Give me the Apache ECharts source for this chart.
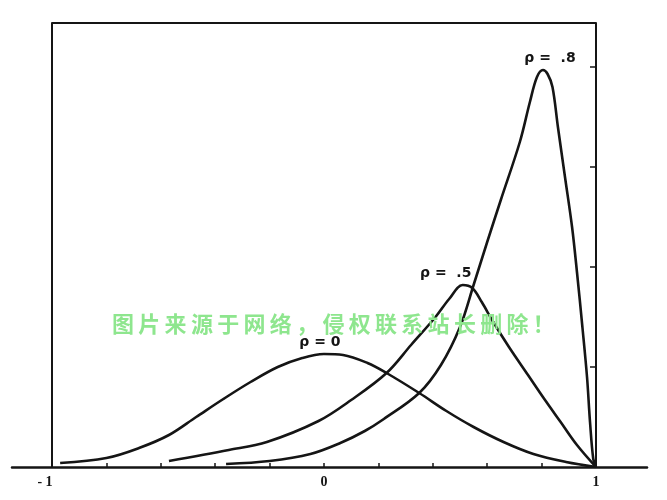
<!DOCTYPE html>
<html>
<head>
<meta charset="utf-8">
<script src="https://cdn.jsdelivr.net/npm/echarts@6/dist/echarts.min.js"></script>
<style>html,body{margin:0;padding:0;background:#fff;}#c{width:667px;height:500px;}</style>
</head>
<body>
<div id="c"></div>
<script>
// r values (x) and density values (y)
var rho0X = [-0.97,-0.80,-0.68,-0.57,-0.47,-0.37,-0.27,-0.17,-0.08,0.0,0.07,0.16,0.23,0.35,0.45,0.55,0.66,0.77,0.89,1.0];
var rho0Y = [0.04,0.09,0.19,0.32,0.50,0.68,0.85,1.00,1.09,1.13,1.12,1.04,0.94,0.74,0.56,0.40,0.25,0.13,0.05,0.0];
var rho5X = [-0.57,-0.35,-0.21,-0.02,0.10,0.23,0.32,0.41,0.46,0.51,0.545,0.58,0.62,0.68,0.75,0.81,0.87,0.93,1.0];
var rho5Y = [0.06,0.17,0.25,0.46,0.67,0.94,1.22,1.50,1.68,1.82,1.79,1.65,1.46,1.20,0.92,0.68,0.45,0.22,0.0];
var rho8X = [-0.36,-0.20,-0.05,0.06,0.15,0.22,0.35,0.43,0.50,0.55,0.60,0.65,0.72,0.757,0.783,0.805,0.822,0.84,0.86,0.886,0.912,0.93,0.95,0.967,0.978,0.99,1.0];
var rho8Y = [0.03,0.06,0.13,0.24,0.36,0.48,0.74,1.02,1.40,1.82,2.25,2.67,3.25,3.65,3.90,3.97,3.93,3.80,3.40,2.90,2.40,1.95,1.40,0.90,0.45,0.08,0.0];
var seriesNames = ['ρ = 0', 'ρ =  .5', 'ρ =  .8'];
var xTickValues = [-1,-0.8,-0.6,-0.4,-0.2,0,0.2,0.4,0.6,0.8,1];
var xLabelValues = [-1,0,1];
var yTickValues = [1,2,3,4];
var watermark = '图片来源于网络，侵权联系站长删除！';

var X_MIN = -1.147, X_MAX = 1.1875, Y_MAX = 4.44;
var INK = '#151515';

function zip(xs, ys){ return xs.map(function(x,i){ return [x, ys[i]]; }); }
function peakIndex(ys){ var m=0; ys.forEach(function(v,i){ if(v>ys[m]) m=i; }); return m; }

var chart = echarts.init(document.getElementById('c'), null, {renderer:'canvas'});

var labelOffsets = [[-4,-12],[-17,-12],[7,-12]];
var sets = [[rho0X,rho0Y],[rho5X,rho5Y],[rho8X,rho8Y]];
var series = sets.map(function(s, k){
  var pi = peakIndex(s[1]);
  return {
    type:'line', name: seriesNames[k], data: zip(s[0], s[1]),
    showSymbol:false, smooth:0.35, silent:true,
    lineStyle:{color:INK, width:2.6},
    markPoint:{
      symbol:'circle', symbolSize:0, silent:true,
      label:{show:true, position:'inside', offset:labelOffsets[k], formatter: seriesNames[k],
             color:INK, fontFamily:'DejaVu Sans', fontWeight:'bold', fontSize:14},
      data:[{coord:[s[0][pi], s[1][pi]]}]
    }
  };
});
// top border of the frame
series.push({
  type:'line', data:[], silent:true,
  markLine:{symbol:'none', silent:true, label:{show:false},
    lineStyle:{color:INK, width:2, type:'solid'},
    data:[[{coord:[-1, Y_MAX]},{coord:[1, Y_MAX]}]]}
});

var graphics = watermark.split('').map(function(ch, i){
  return {type:'text', left: 112 + i*26.3, top: 313, silent:true, z:100,
    style:{text:ch, fill:'#8ee68e', font:'bold 22px "Noto Sans CJK SC"'}};
});

chart.setOption({
  animation:false,
  backgroundColor:'#ffffff',
  grid:{left:12, right:20, top:23, bottom:33, outerBoundsMode:'none', containLabel:false},
  xAxis:{type:'value', min:X_MIN, max:X_MAX,
    axisLine:{show:true, onZero:false, lineStyle:{color:INK, width:2.5}},
    axisTick:{show:true, inside:true, length:4, customValues:xTickValues, lineStyle:{color:INK, width:1.5}},
    axisLabel:{show:true, customValues:xLabelValues, margin:8, color:INK,
      fontFamily:'Liberation Serif', fontWeight:'bold', fontSize:14,
      formatter:function(v){ return v===-1 ? '{n|- 1}' : String(v); },
      rich:{n:{fontFamily:'Liberation Serif', fontWeight:'bold', fontSize:14, color:INK, padding:[0,14,0,0]}}},
    splitLine:{show:false}},
  yAxis:[
    {type:'value', min:0, max:Y_MAX, position:'left', offset:-40,
      axisLine:{show:true, onZero:false, lineStyle:{color:INK, width:2}},
      axisTick:{show:false}, axisLabel:{show:false}, splitLine:{show:false}},
    {type:'value', min:0, max:Y_MAX, position:'right', offset:-51,
      axisLine:{show:true, onZero:false, lineStyle:{color:INK, width:2}},
      axisTick:{show:true, inside:true, length:6, customValues:yTickValues, lineStyle:{color:INK, width:1.5}},
      axisLabel:{show:false}, splitLine:{show:false}}
  ],
  series: series,
  graphic: graphics
});
</script>
</body>
</html>
